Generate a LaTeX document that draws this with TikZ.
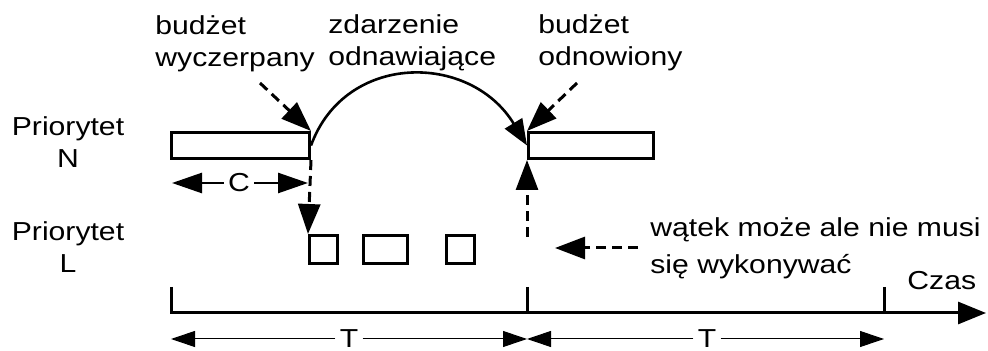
\documentclass[tikz,border=0pt]{standalone}
\usepackage{fontspec}
\setmainfont{Liberation Sans}[FakeStretch=1.16]
\usetikzlibrary{arrows.meta}

\begin{document}
\begin{tikzpicture}[x=0.5pt, y=-0.5pt,
  bar/.style={draw, line width=1.5pt, inner sep=0pt, anchor=north west},
  lbl/.style={font=\fontsize{13}{16}\selectfont, inner sep=0pt},
  pointer/.style={-{Triangle[length=15pt,width=11pt]}, line width=1.5pt, dash pattern=on 5pt off 3pt},
  flow/.style={-{Triangle[length=13pt,width=10pt]}, line width=1.3pt},
  axis/.style={line width=1.5pt},
  dimC/.style={-{Triangle[length=15pt,width=10pt]}, line width=1.3pt},
  dimT/.style={-{Triangle[length=12pt,width=8pt]}, line width=0.5pt}]
\useasboundingbox (0,0) rectangle (988,351);

% pasek budzetu, priorytet N
\node [bar, minimum width=69pt, minimum height=13pt] (n1) at (170,131) {};
\node [bar, minimum width=62.5pt, minimum height=13pt] (n2) at (527,131) {};
% wykonanie z priorytetem L
\node [bar, minimum width=14pt, minimum height=14pt] (s1) at (308,234) {};
\node [bar, minimum width=22pt, minimum height=14pt] (s2) at (362,234) {};
\node [bar, minimum width=14pt, minimum height=14pt] (s3) at (445,234) {};

% opisy (anchor=base to ostatnia linia)
\node [lbl, align=center, anchor=base] (prioN) at (68,168) {Priorytet\\N};
\node [lbl, align=center, anchor=base] (prioL) at (68,273) {Priorytet\\L};
\node [lbl, align=left, anchor=base west] (wycz) at (155,67) {budżet\\wyczerpany};
\node [lbl, align=left, anchor=base west] (zdarz) at (328,66) {zdarzenie\\odnawiające};
\node [lbl, align=left, anchor=base west] (odnow) at (538,66) {budżet\\odnowiony};
\node [lbl, align=left, anchor=base west, font=\fontsize{13}{18.5}\selectfont] (watek) at (650,274) {wątek może ale nie musi\\się wykonywać};
\node [lbl, anchor=base west] (czas) at (907,290) {Czas};

\coordinate (p1) at (260,83);
\coordinate (p2) at (577,83);
\coordinate (p3) at (527,237);
\coordinate (p4) at (638,248);
\coordinate (p5) at (555,248);

\draw[flow] (n1.east) .. controls (345,52) and (470,52) .. (n2.west);
\draw[pointer] (p1) -- (n1.north east);
\draw[pointer] (p2) -- (n2.north west);
\draw[pointer] (n1.south east) -- (s1.north west);
\draw[pointer] (p3) -- (n2.south west);
\draw[pointer] (p4) -- (p5);

% C
\node [lbl, inner xsep=2pt] (C) at (239,183) {C};
\coordinate (c0) at (172,183);
\coordinate (c1) at (308,183);
\draw[dimC] (C) -- (c0);
\draw[dimC] (C) -- (c1);

% os czasu
\coordinate (k0) at (171,287);
\coordinate (k1) at (527,287);
\coordinate (k2) at (884,287);
\coordinate (t0) at (171,313);
\coordinate (t1) at (527,313);
\coordinate (t2) at (884,313);
\coordinate (tend) at (986,313);
\draw[axis, -{Triangle[length=14pt,width=11pt]}] (k0) -- (t0) -- (tend);
\draw[axis] (k1) -- (t1);
\draw[axis] (k2) -- (t2);

% T
\node [lbl, inner xsep=2pt] (T1) at (349,339) {T};
\node [lbl, inner xsep=2pt] (T2) at (707,339) {T};
\coordinate (a0) at (171,339);
\coordinate (a1) at (527,339);
\coordinate (a2) at (884,339);
\draw[dimT] (T1) -- (a0);
\draw[dimT] (T1) -- (a1);
\draw[dimT] (T2) -- (a1);
\draw[dimT] (T2) -- (a2);
\end{tikzpicture}
\end{document}
